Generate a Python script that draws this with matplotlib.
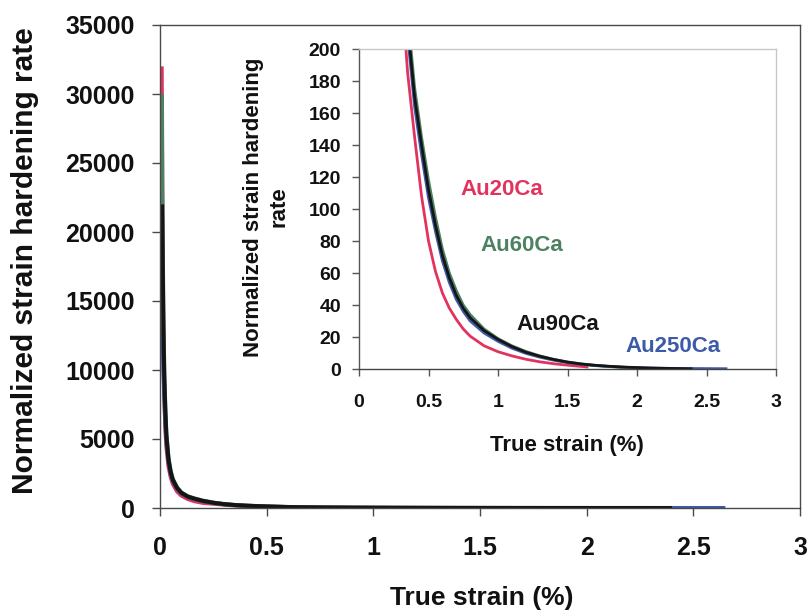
import matplotlib
matplotlib.use("Agg")
import matplotlib.pyplot as plt

plt.rcParams['font.family'] = ['Liberation Sans', 'DejaVu Sans']
plt.rcParams['font.weight'] = 'bold'

# ---- data: true strain (%) vs normalized strain hardening rate ----
au20_x = [0.008, 0.010, 0.013, 0.016, 0.02, 0.025, 0.03, 0.04, 0.05, 0.06, 0.08,
          0.10, 0.13, 0.16, 0.20, 0.25, 0.30, 0.35, 0.40, 0.45, 0.50, 0.55, 0.60,
          0.65, 0.70, 0.75, 0.80, 0.90, 1.00, 1.10, 1.20, 1.30, 1.40, 1.50, 1.60, 1.65]
au20_y = [32000, 24000, 16000, 11500, 8200, 5800, 4400, 3000, 2250, 1750, 1200,
          900, 650, 500, 370, 310, 245, 185, 145, 108, 80, 61, 47.5,
          38, 31, 25, 20.5, 14.5, 10.8, 8.2, 6.1, 4.5, 3.3, 2.4, 1.6, 1.2]

au60_x = [0.009, 0.011, 0.013, 0.016, 0.02, 0.025, 0.03, 0.04, 0.05, 0.06, 0.08,
          0.10, 0.13, 0.16, 0.20, 0.25, 0.30, 0.35, 0.40, 0.45, 0.50, 0.55, 0.60,
          0.65, 0.70, 0.75, 0.80, 0.90, 1.00, 1.10, 1.20, 1.30, 1.40, 1.50, 1.60,
          1.70, 1.80, 1.90, 2.00]
au60_y = [30000, 24000, 19000, 14000, 10000, 7300, 5400, 3600, 2700, 2100, 1500,
          1130, 850, 700, 535, 390, 290, 222, 176, 145, 118, 95, 75,
          60, 49, 40, 34, 25, 19, 14.5, 11, 8.2, 6, 4.4, 3.2,
          2.3, 1.6, 1.1, 0.8]

au90_x = [0.010, 0.013, 0.016, 0.02, 0.025, 0.03, 0.04, 0.05, 0.06, 0.08,
          0.10, 0.13, 0.16, 0.20, 0.25, 0.30, 0.35, 0.40, 0.45, 0.50, 0.55, 0.60,
          0.65, 0.70, 0.75, 0.80, 0.90, 1.00, 1.10, 1.20, 1.30, 1.40, 1.50, 1.60,
          1.70, 1.80, 1.90, 2.00, 2.10, 2.20, 2.30, 2.40]
au90_y = [22000, 17500, 13000, 9500, 7000, 5200, 3500, 2600, 2050, 1450,
          1100, 830, 680, 520, 380, 280, 215, 170, 140, 112, 90, 71,
          57, 46, 38, 32, 24, 18.5, 14, 10.5, 8, 6, 4.3, 3.1,
          2.3, 1.7, 1.2, 0.9, 0.6, 0.4, 0.25, 0.1]

au250_x = [0.012, 0.016, 0.02, 0.025, 0.03, 0.04, 0.05, 0.06, 0.08,
           0.10, 0.13, 0.16, 0.20, 0.25, 0.30, 0.35, 0.40, 0.45, 0.50, 0.55, 0.60,
           0.65, 0.70, 0.75, 0.80, 0.90, 1.00, 1.10, 1.20, 1.30, 1.40, 1.50, 1.60,
           1.70, 1.80, 1.90, 2.00, 2.10, 2.20, 2.30, 2.40, 2.50, 2.60, 2.65]
au250_y = [13000, 10000, 8000, 6200, 4800, 3300, 2450, 1950, 1380,
           1050, 790, 640, 495, 360, 268, 208, 164, 134, 107, 86, 67.5,
           54, 43.5, 36, 30, 22.5, 17.3, 13, 9.8, 7.4, 5.5, 4.0, 2.9,
           2.1, 1.5, 1.1, 0.8, 0.6, 0.45, 0.35, 0.3, 0.25, 0.2, 0.2]

series_names = ["Au20Ca", "Au250Ca", "Au60Ca", "Au90Ca"]
series_x = [au20_x, au250_x, au60_x, au90_x]
series_y = [au20_y, au250_y, au60_y, au90_y]
series_colors = ["#e2335e", "#3d5aa8", "#4c8262", "#151515"]

main_xticks = [0, 0.5, 1, 1.5, 2, 2.5, 3]
main_xticklabels = ["0", "0.5", "1", "1.5", "2", "2.5", "3"]
main_yticks = [0, 5000, 10000, 15000, 20000, 25000, 30000, 35000]
inset_yticks = list(range(0, 201, 20))

# in-plot labels: (name, x, y, colour)
inset_labels = [("Au20Ca", 0.727, 112, "#e2335e"),
                ("Au60Ca", 0.871, 77, "#4c8262"),
                ("Au90Ca", 1.13, 28, "#151515"),
                ("Au250Ca", 1.915, 14, "#3d5aa8")]

W, H = 809, 613
fig = plt.figure(figsize=(W / 100, H / 100), dpi=100)
fig.patch.set_facecolor("white")


def px(x0, y0, x1, y1):
    return [x0 / W, 1 - y1 / H, (x1 - x0) / W, (y1 - y0) / H]


spine_col = "#4a4a4a"

# ---- main axes ----
ax = fig.add_axes(px(160, 25, 800, 508))
for xs, ys, c in zip(series_x, series_y, series_colors):
    ax.plot(xs, ys, color=c, lw=2.9, solid_capstyle="butt")
ax.set_xlim(0, 3)
ax.set_ylim(0, 35000)
ax.set_xticks(main_xticks)
ax.set_xticklabels(main_xticklabels)
ax.set_yticks(main_yticks)
for s in ax.spines.values():
    s.set_color(spine_col)
    s.set_linewidth(1.0)
ax.tick_params(axis="both", direction="out", length=6, width=1.0, color=spine_col,
               labelsize=18, labelcolor="#111111")
ax.tick_params(axis="y", pad=12)
ax.tick_params(axis="x", pad=14)

fig.text(25 / W, 1 - 261 / H, "Normalized strain hardening rate", rotation=90,
         ha="center", va="center", fontsize=21.5, fontweight="bold", color="#111111")
fig.text(482 / W, 1 - 598 / H, "True strain (%)", ha="center", va="center",
         fontsize=19, fontweight="bold", color="#111111")

# ---- inset axes ----
ins = fig.add_axes(px(359, 49, 776, 369))
ins.set_facecolor("white")
for xs, ys, c in zip(series_x, series_y, series_colors):
    ins.plot(xs, ys, color=c, lw=2.0, solid_capstyle="butt")
ins.set_xlim(0, 3)
ins.set_ylim(0, 200)
ins.set_xticks(main_xticks)
ins.set_xticklabels(main_xticklabels)
ins.set_yticks(inset_yticks)
ins.spines["left"].set_color("#555555")
ins.spines["bottom"].set_color("#444444")
ins.spines["top"].set_color("#c8c8c8")
ins.spines["right"].set_color("#c8c8c8")
for s in ins.spines.values():
    s.set_linewidth(1.0)
ins.tick_params(axis="both", direction="out", length=5, width=1.0, color="#555555",
                labelsize=14, labelcolor="#111111")
ins.tick_params(axis="y", pad=8)
ins.tick_params(axis="x", pad=13)

for name, x, y, c in inset_labels:
    ins.text(x, y, name, color=c, fontsize=16, fontweight="bold",
             ha="left", va="center")

fig.text(266 / W, 1 - 207 / H, "Normalized strain hardening\nrate", rotation=90,
         ha="center", va="center", multialignment="center", fontsize=16,
         fontweight="bold", color="#111111", linespacing=1.25)
fig.text(567 / W, 1 - 445 / H, "True strain (%)", ha="center", va="center",
         fontsize=16, fontweight="bold", color="#111111")

fig.savefig("out.png", dpi=100, facecolor="white")
